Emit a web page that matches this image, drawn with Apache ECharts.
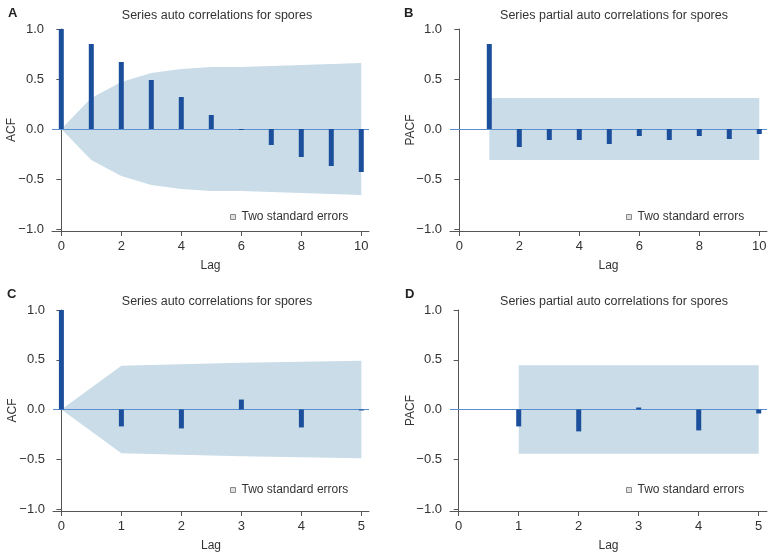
<!DOCTYPE html>
<html>
<head>
<meta charset="utf-8">
<script src="https://cdn.jsdelivr.net/npm/echarts@6/dist/echarts.min.js"></script>
<style>html,body{margin:0;padding:0;background:#fff}#c{width:774px;height:560px}</style>
</head>
<body>
<div id="c"></div>
<script>
// ---- data ----
const lagsA = [0,1,2,3,4,5,6,7,8,9,10];
const acfA = [1.0,0.85,0.67,0.49,0.32,0.14,-0.01,-0.16,-0.28,-0.37,-0.43];
const bandA = [0,0.31,0.47,0.56,0.60,0.62,0.62,0.63,0.64,0.65,0.66];

const lagsB = [1,2,3,4,5,6,7,8,9,10];
const pacfB = [0.85,-0.18,-0.11,-0.11,-0.15,-0.07,-0.11,-0.07,-0.10,-0.05];
const bandB = 0.31;

const lagsC = [0,1,2,3,4,5];
const acfC = [1.0,-0.17,-0.19,0.10,-0.18,-0.01];
const bandC = [0,0.44,0.455,0.47,0.48,0.49];

const lagsD = [1,2,3,4,5];
const pacfD = [-0.17,-0.22,0.02,-0.21,-0.04];
const bandD = 0.445;

const xTicks10 = [0,2,4,6,8,10];
const xTicks5 = [0,1,2,3,4,5];
const yTicks = [-1,-0.5,0,0.5,1];
const titleACF = 'Series auto correlations for spores';
const titlePACF = 'Series partial auto correlations for spores';
const legendName = 'Two standard errors';
const panelLetters = ['A','B','C','D'];

// ---- styles ----
const FONT = 'Liberation Sans, Arial, Helvetica, sans-serif';
const BAR = '#1c4f9b';
const BANDC = '#c9dce8';
const ZERO = '#5b8fcf';
const AX = '#555';

const grids = [
  {left:52, top:29, width:317, height:202},
  {left:450, top:29, width:317, height:202},
  {left:53, top:310, width:316, height:201},
  {left:450, top:310, width:317, height:201}
];
const xr = [[-0.31,10.257],[-0.31,10.257],[-0.14,5.127],[-0.145,5.138]];

function fmtY(v){ const s = Math.abs(v).toFixed(1); return (v < 0 ? '\u2212' : '') + s; }

const xAxes = grids.map((g,i)=>({
  gridIndex:i, type:'value', min:xr[i][0], max:xr[i][1],
  name:'Lag', nameLocation:'middle', nameGap:29, nameMoveOverlap:false,
  nameTextStyle:{fontFamily:FONT,fontSize:12,color:'#333'},
  splitLine:{show:false},
  axisLine:{show:true,onZero:false,lineStyle:{color:AX,width:1}},
  axisTick:{show:true,length:5,customValues:(i<2?xTicks10:xTicks5),lineStyle:{color:AX}},
  axisLabel:{margin:9,fontFamily:FONT,fontSize:13,color:'#333',customValues:(i<2?xTicks10:xTicks5)}
}));
const yAxes = grids.map((g,i)=>({
  gridIndex:i, type:'value', min:-1.02, max:1.0,
  name:(i%2===0?'ACF':'PACF'), nameLocation:'middle', nameGap:(i%2===0?34:33), nameMoveOverlap:false,
  nameTextStyle:{fontFamily:FONT,fontSize:12,color:'#333'},
  splitLine:{show:false},
  axisLine:{show:true,lineStyle:{color:AX,width:1}},
  axisTick:{show:true,length:5,customValues:yTicks,lineStyle:{color:AX}},
  axisLabel:{margin:8,fontFamily:FONT,fontSize:13,color:'#333',customValues:yTicks,formatter:fmtY}
}));

function bandSeries(i, xs, upper){
  const up = xs.map((x,k)=>[x, Array.isArray(upper)?upper[k]:upper]);
  const lo = xs.map((x,k)=>[x, -(Array.isArray(upper)?upper[k]:upper)]);
  const mk = d => ({
    type:'line', name:legendName, xAxisIndex:i, yAxisIndex:i, data:d,
    symbol:'none', silent:true, z:1,
    lineStyle:{width:0,color:BANDC}, itemStyle:{color:BANDC},
    areaStyle:{color:BANDC,opacity:1}
  });
  return [mk(up), mk(lo)];
}
function barSeries(i, xs, ys){
  return {
    type:'bar', name:'vals'+i, xAxisIndex:i, yAxisIndex:i,
    data:xs.map((x,k)=>[x,ys[k]]), barWidth:5, z:3,
    itemStyle:{color:BAR},
    markLine:{silent:true,symbol:['none','none'],label:{show:false},
      lineStyle:{color:ZERO,width:1,type:'solid'}, data:[{yAxis:0}], z:2}
  };
}

const series = [
  ...bandSeries(0, lagsA, bandA), barSeries(0, lagsA, acfA),
  ...bandSeries(1, [lagsB[0], lagsB[lagsB.length-1]], bandB), barSeries(1, lagsB, pacfB),
  ...bandSeries(2, lagsC, bandC), barSeries(2, lagsC, acfC),
  ...bandSeries(3, [lagsD[0], lagsD[lagsD.length-1]], bandD), barSeries(3, lagsD, pacfD)
];

const titles = [
  {text:titleACF, left:212, top:4},
  {text:titlePACF, left:609, top:4},
  {text:titleACF, left:212, top:290},
  {text:titlePACF, left:609, top:290}
].map(t=>({text:t.text,left:t.left,top:t.top,textAlign:'center',
  textStyle:{fontFamily:FONT,fontSize:12.5,fontWeight:'normal',color:'#333'}}));
const letterPos = [[3,2],[399,2],[2,283],[400,283]];
letterPos.forEach((p,k)=>titles.push({text:panelLetters[k],left:p[0],top:p[1],
  textStyle:{fontFamily:FONT,fontSize:13,fontWeight:'bold',color:'#222'}}));

const legendPos = [[225,206],[621,206],[225,479],[621,479]];
const legends = legendPos.map(p=>({
  left:p[0], top:p[1], orient:'horizontal', selectedMode:false,
  itemWidth:5, itemHeight:5, itemGap:4,
  textStyle:{fontFamily:FONT,fontSize:12,color:'#333',padding:[0,0,0,1]},
  data:[{name:legendName, icon:'rect', itemStyle:{color:'#e0e0e0',borderColor:'#888',borderWidth:1}}]
}));

const chart = echarts.init(document.getElementById('c'), null, {renderer:'canvas'});
chart.setOption({
  animation:false,
  backgroundColor:'#fff',
  title:titles,
  legend:legends,
  grid:grids,
  xAxis:xAxes,
  yAxis:yAxes,
  series:series
});
</script>
</body>
</html>
